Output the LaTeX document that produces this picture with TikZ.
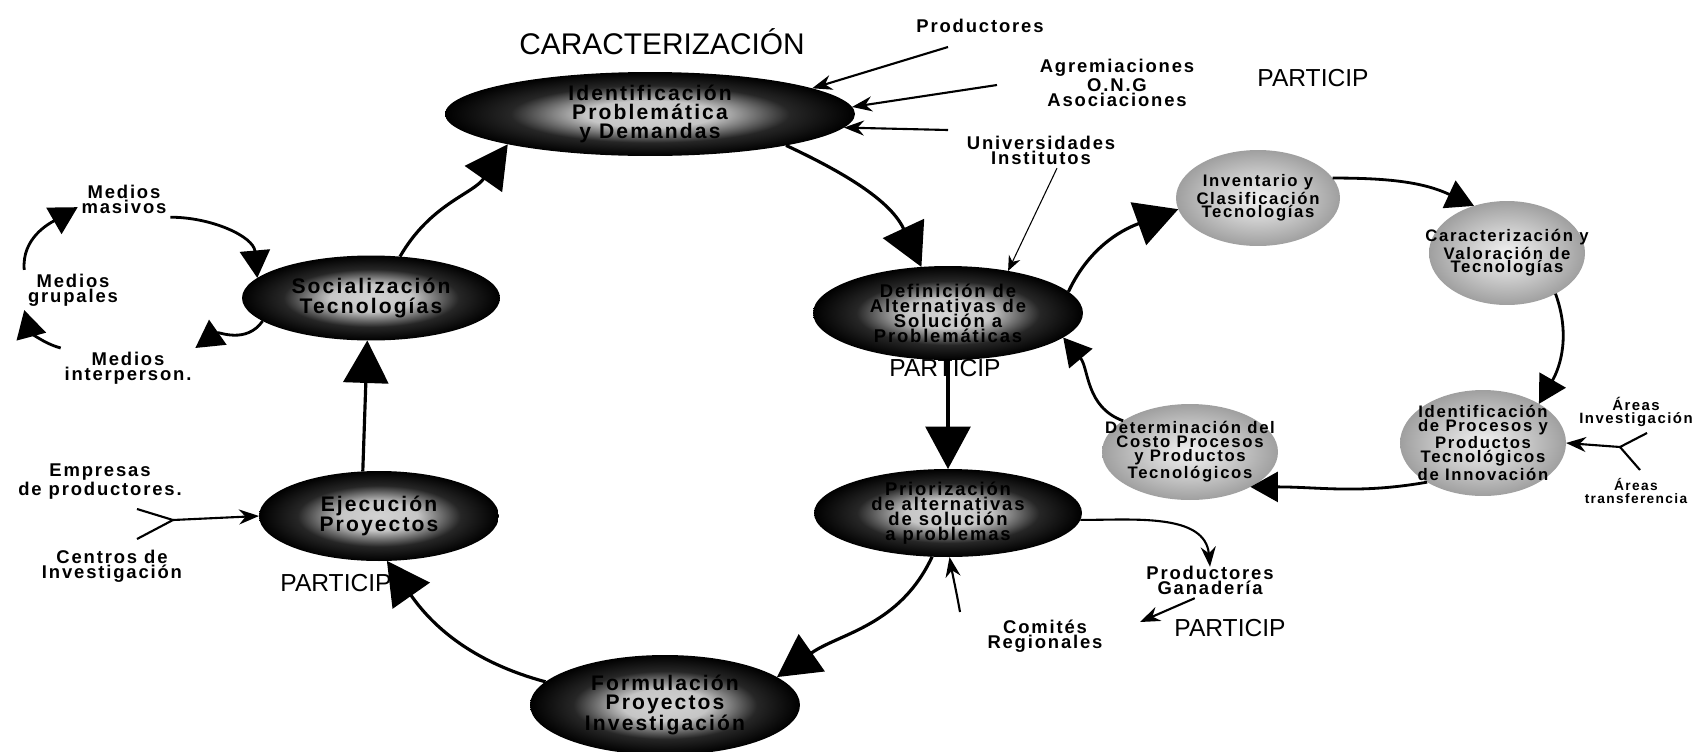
\documentclass[tikz,border=0pt]{standalone}
\usepackage{fontspec}
\usepackage{tikz}
\usetikzlibrary{shapes.geometric, arrows.meta}
\newfontfamily\lblfont[LetterSpace=10]{Liberation Sans}
\newfontfamily\handfont{Liberation Sans}

\pgfdeclareradialshading{oscura}{\pgfpoint{0bp}{0bp}}{color(0bp)=(gray!35); color(8bp)=(gray!45); color(17bp)=(black!85); color(25bp)=(black); color(50bp)=(black)}
\pgfdeclareradialshading{clara}{\pgfpoint{0bp}{0bp}}{color(0bp)=(gray!10); color(12bp)=(gray!40); color(25bp)=(gray!75); color(50bp)=(gray!75)}

\tikzset{
  darkell/.style={ellipse, shade, shading=oscura, inner sep=0pt, outer sep=0pt},
  greyell/.style={ellipse, shade, shading=clara, inner sep=0pt, outer sep=0pt},
  intxt/.style={font=\lblfont\bfseries\fontsize{12}{11}\selectfont, align=center},
  defintxt/.style={font=\lblfont\bfseries\fontsize{10.5}{8.6}\selectfont, align=center},
  greytxt/.style={font=\lblfont\bfseries\fontsize{9.5}{7.8}\selectfont, align=center},
  lbl/.style={font=\lblfont\bfseries\fontsize{10.5}{8.6}\selectfont, align=center, inner sep=2pt},
  smlbl/.style={font=\lblfont\bfseries\fontsize{8.5}{7.5}\selectfont, align=center, inner sep=2pt},
  hand/.style={font=\handfont\fontsize{14}{14}\selectfont, inner sep=1pt},
  bigarrow/.style={line width=1.8pt, -{Triangle[length=0.85cm, width=0.9cm]}},
  midarrow/.style={line width=1.6pt, -{Triangle[length=0.55cm, width=0.6cm]}},
  thinarrow/.style={line width=1.2pt, -{Stealth[length=0.4cm, width=0.3cm]}}
}

\begin{document}
\begin{tikzpicture}[x=0.02cm, y=-0.02cm]
  \useasboundingbox (0,0) rectangle (1697,751);

  % Ciclo principal
  \node[darkell, minimum width=8.2cm, minimum height=1.68cm,
        label={[intxt]center:{Identificación\\Problemática\\y Demandas}}] (idprob) at (650,114) {};
  \node[darkell, minimum width=5.16cm, minimum height=1.7cm,
        label={[intxt]center:{Socialización\\Tecnologías}}] (social) at (371,298) {};
  \node[darkell, minimum width=4.8cm, minimum height=1.8cm,
        label={[intxt]center:{Ejecución\\Proyectos}}] (ejec) at (379,516) {};
  \node[darkell, minimum width=5.4cm, minimum height=2cm,
        label={[intxt]center:{Formulación\\Proyectos\\Investigación}}] (formu) at (665,705) {};
  \node[darkell, minimum width=5.4cm, minimum height=1.88cm,
        label={[defintxt]center:{Definición de\\Alternativas de\\Solución a\\Problemáticas}}] (defin) at (948,313) {};
  \node[darkell, minimum width=5.36cm, minimum height=1.76cm,
        label={[defintxt]center:{Priorización\\de alternativas\\de solución\\a problemas}}] (prior) at (948,513) {};

  % Ciclo de tecnologias
  \node[greyell, minimum width=3.28cm, minimum height=1.92cm,
        label={[greytxt]center:{Inventario y\\Clasificación\\Tecnologías}}] (invent) at (1258,198) {};
  \node[greyell, minimum width=3.12cm, minimum height=2.08cm,
        label={[greytxt]center:{Caracterización y\\Valoración de\\Tecnologías}}] (caract) at (1507,253) {};
  \node[greyell, minimum width=3.32cm, minimum height=2.12cm,
        label={[greytxt]center:{Identificación\\de Procesos y\\Productos\\Tecnológicos\\de Innovación}}] (idproc) at (1483,443) {};
  \node[greyell, minimum width=3.52cm, minimum height=1.92cm,
        label={[greytxt]center:{Determinación del\\Costo Procesos\\y Productos\\Tecnológicos}}] (determ) at (1190,452) {};

  % Actores
  \node[lbl] (prod) at (980,26) {Productores};
  \node[lbl] (agrem) at (1117,83) {Agremiaciones\\O.N.G\\Asociaciones};
  \node[lbl] (univ) at (1041,150) {Universidades\\Institutos};
  \node[lbl] (masivos) at (124,199) {Medios\\masivos};
  \node[lbl] (grupales) at (73,290) {Medios\\grupales};
  \node[lbl] (interp) at (128,368) {Medios\\interperson.};
  \node[lbl] (empresas) at (100,482) {Empresas\\de productores.};
  \node[lbl] (centros) at (112,566) {Centros de\\Investigación};
  \node[lbl] (ganad) at (1210,580) {Productores\\Ganadería};
  \node[lbl] (comites) at (1045,636) {Comités\\Regionales};
  \node[smlbl] (areainv) at (1636,412) {Áreas\\Investigación};
  \node[smlbl, font=\lblfont\bfseries\fontsize{7.8}{7}\selectfont] (areatra) at (1636,491) {Áreas\\transferencia};

  % Notas a mano
  \node[hand, font=\handfont\fontsize{17}{17}\selectfont] (notacar) at (662,42) {CARACTERIZACIÓN};
  \node[hand] (part1) at (1313,78) {PARTICIP};
  \node[hand] (part2) at (945,368) {PARTICIP};
  \node[hand] (part3) at (336,583) {PARTICIP};
  \node[hand] (part4) at (1230,628) {PARTICIP};

  % Puntos libres
  \coordinate (prod-s) at (948,47);
  \coordinate (agrem-s) at (997,85);
  \coordinate (univ-s) at (948,130);
  \coordinate (forkL) at (173,520);
  \coordinate (emp-in) at (137,509);
  \coordinate (cen-in) at (137,539);
  \coordinate (forkR) at (1620,447);
  \coordinate (inv-in) at (1647,433);
  \coordinate (tra-in) at (1640,470);
  \coordinate (parttip) at (1140,622);
  \coordinate (com-s) at (960,612);

  % Flechas ciclo principal
  \foreach \a/\b/\o/\i in {idprob.-13/defin.120/-25/115, prior.-110/formu.14/-115/35,
                           formu.169/ejec.-80/165/-55, social.55/idprob.192/60/-125} {
    \draw[bigarrow] (\a) to[out=\o, in=\i] (\b);
  }
  \draw[bigarrow] (defin.south) -- (prior.north);
  \draw[bigarrow] (ejec.110) -- (social.-95);

  % Flechas ciclo de tecnologias
  \draw[bigarrow] (defin.10) to[out=65, in=-160] (invent.188);
  \foreach \a/\b/\o/\i in {invent.15/caract.125/0/155, caract.-40/idproc.35/-70/60,
                           idproc.-145/determ.-30/190/0, determ.155/defin.-12/160/-50} {
    \draw[midarrow] (\a) to[out=\o, in=\i] (\b);
  }

  % Medios
  \draw[midarrow] (masivos.south east) to[out=0, in=95] (social.170);
  \draw[midarrow] (social.192) to[out=-125, in=35] (interp.north east);
  \draw[midarrow] (interp.north west) to[out=165, in=-75] (grupales.south west);
  \draw[midarrow] (grupales.north west) to[out=95, in=-150] (masivos.190);

  % Entradas
  \draw[thinarrow] (prod-s) -- (idprob.9);
  \draw[thinarrow] (agrem-s) -- (idprob.2);
  \draw[thinarrow] (univ-s) -- (idprob.-4);
  \draw[line width=0.6pt, -{Stealth[length=0.3cm, width=0.25cm]}] ([xshift=0.32cm]univ.south) -- (defin.35);
  \draw[line width=1.2pt] (emp-in) -- (forkL) -- (cen-in);
  \draw[thinarrow] (forkL) -- (ejec.west);
  \draw[line width=1.2pt] (inv-in) -- (forkR) -- (tra-in);
  \draw[thinarrow] (forkR) -- (idproc.east);
  \draw[thinarrow] (prior.-3) to[out=0, in=95] ([yshift=-0.1cm]ganad.north);
  \draw[thinarrow] (com-s) to[out=100, in=-80] (prior.-88);
  \draw[thinarrow] (ganad.-130) -- (parttip);
\end{tikzpicture}
\end{document}
